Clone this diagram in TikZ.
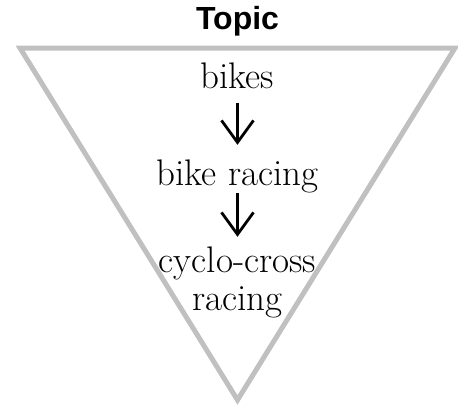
\documentclass[tikz,border=0pt]{standalone}
\usepackage{fontspec}
\newfontfamily\topicfont{Liberation Sans}
\usetikzlibrary{arrows.meta}
\definecolor{funnelgray}{RGB}{192,192,192}
\begin{document}
\begin{tikzpicture}[x=1pt,y=1pt,
  funnel/.style={draw=funnelgray,line width=5pt,line join=miter},
  label/.style={inner sep=0pt,anchor=base,text height=26pt,text depth=7pt,
    font=\fontsize{37}{42}\selectfont},
  title/.style={inner sep=0pt,anchor=base,font=\topicfont\bfseries\fontsize{32}{36}\selectfont},
  flow/.style={line width=2.8pt,-{Straight Barb[length=22pt,width=32pt,line width=2.8pt]}}
]
\useasboundingbox (0,0) rectangle (458,-410);
\coordinate (tl) at (20,-48);
\coordinate (tr) at (455,-48);
\coordinate (tb) at (237.5,-400);
\draw[funnel] (tl) -- (tr) -- (tb) -- cycle;
\node[title] (topic) at (237.5,-29) {Topic};
\node[label] (bikes) at (237.5,-88) {bikes};
\node[label] (bracing) at (237.5,-185) {bike racing};
\node[label] (cyclo) at (237.5,-272) {cyclo-cross};
\node[label] (racing) at (237.5,-310) {racing};
\draw[flow,shorten <=8pt,shorten >=14pt] (bikes.south) -- (bracing.north);
\draw[flow,shorten <=1pt,shorten >=9pt] (bracing.south) -- (cyclo.north);
\end{tikzpicture}
\end{document}
